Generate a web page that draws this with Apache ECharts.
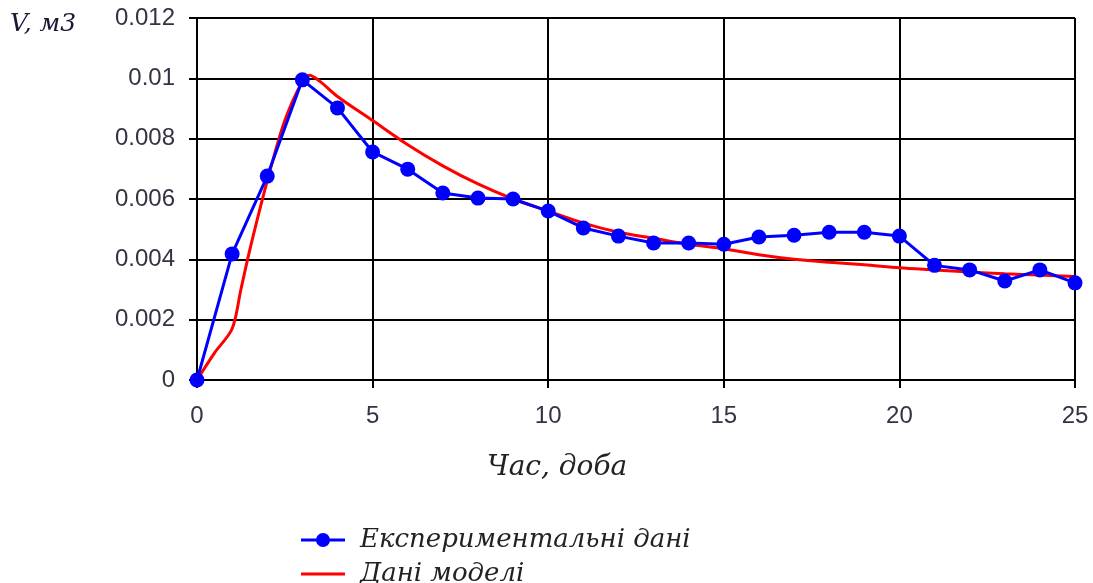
<!DOCTYPE html>
<html>
<head>
<meta charset="utf-8">
<script src="https://cdn.jsdelivr.net/npm/echarts@6/dist/echarts.min.js"></script>
<style>html,body{margin:0;padding:0;background:#fff}#c{width:1093px;height:583px}</style>
</head>
<body>
<div id="c"></div>
<script>
var days = [0,1,2,3,4,5,6,7,8,9,10,11,12,13,14,15,16,17,18,19,20,21,22,23,24,25];
var experimental = [0,0.00418,0.00676,0.00995,0.00902,0.00756,0.00699,0.0062,0.00603,0.006,0.0056,0.00504,0.00477,0.00454,0.00454,0.0045,0.00474,0.0048,0.0049,0.0049,0.00477,0.0038,0.00365,0.00328,0.00365,0.00322];
var modelDays = [0,0.5,1,1.25,1.5,2,2.5,3,3.2,3.5,4,5,6,7,8,9,10,11,12,13,14,15,16,17,18,19,20,21,22,23,24,25];
var modelValues = [0,0.0009,0.0017,0.003,0.0043,0.0066,0.0086,0.0099,0.0101,0.0099,0.0094,0.0086,0.0078,0.0071,0.0065,0.006,0.0056,0.0052,0.0049,0.0047,0.0045,0.00435,0.00415,0.004,0.0039,0.00382,0.00372,0.00365,0.00358,0.00352,0.00348,0.00343];
var yTicks = {min:0, max:0.012, interval:0.002};
var xTicks = {min:0, max:25, interval:5};
var legendNames = ['Експериментальні дані','Дані моделі'];

var legendText = {fontFamily:'DejaVu Serif',fontStyle:'italic',fontSize:26,color:'#222',padding:[0,0,0,10]};
var chart = echarts.init(document.getElementById('c'));
chart.setOption({
  animation:false,
  backgroundColor:'#fff',
  grid:{left:197,right:18,top:18,bottom:203},
  xAxis:{
    type:'value', min:xTicks.min, max:xTicks.max, interval:xTicks.interval,
    axisLine:{lineStyle:{color:'#000',width:2}},
    axisTick:{show:true,length:8,lineStyle:{color:'#000',width:2}},
    axisLabel:{fontFamily:'Liberation Sans',fontSize:24,color:'#333344',margin:24},
    splitLine:{show:true,lineStyle:{color:'#000',width:2}}
  },
  yAxis:{
    type:'value', min:yTicks.min, max:yTicks.max, interval:yTicks.interval,
    axisLine:{show:true,lineStyle:{color:'#000',width:2}},
    axisTick:{show:true,length:8,lineStyle:{color:'#000',width:2}},
    axisLabel:{fontFamily:'Liberation Sans',fontSize:24,color:'#333344',margin:22},
    splitLine:{show:true,lineStyle:{color:'#000',width:2}}
  },
  graphic:[
    {type:'text',left:10,top:12,style:{text:'V, м3',fontFamily:'DejaVu Serif',fontStyle:'italic',fontSize:25,fill:'#1a1a33'}},
    {type:'text',left:487,top:454,style:{text:'Час, доба',fontFamily:'DejaVu Serif',fontStyle:'italic',fontSize:28,fill:'#222'}}
  ],
  legend:[
    {left:296, top:522, itemWidth:44, itemHeight:15, textStyle:legendText,
     data:[{name:legendNames[0],icon:'path://M0,6 L44,6 L44,9 L0,9 Z M22,0.5 A7,7 0 1 1 22,14.5 A7,7 0 1 1 22,0.5 Z'}]},
    {left:296, top:556, itemWidth:44, itemHeight:3, textStyle:legendText,
     data:[{name:legendNames[1],icon:'path://M0,0 L44,0 L44,3 L0,3 Z'}]}
  ],
  series:[
    {name:legendNames[1],type:'line',data:modelDays.map(function(d,i){return [d,modelValues[i]];}),
     smooth:0.3,showSymbol:false,symbol:'none',lineStyle:{color:'#ff0000',width:3},itemStyle:{color:'#ff0000'},z:2},
    {name:legendNames[0],type:'line',data:days.map(function(d,i){return [d,experimental[i]];}),
     symbol:'circle',symbolSize:15,lineStyle:{color:'#0000ff',width:3},itemStyle:{color:'#0000ff'},z:3}
  ]
});
</script>
</body>
</html>
